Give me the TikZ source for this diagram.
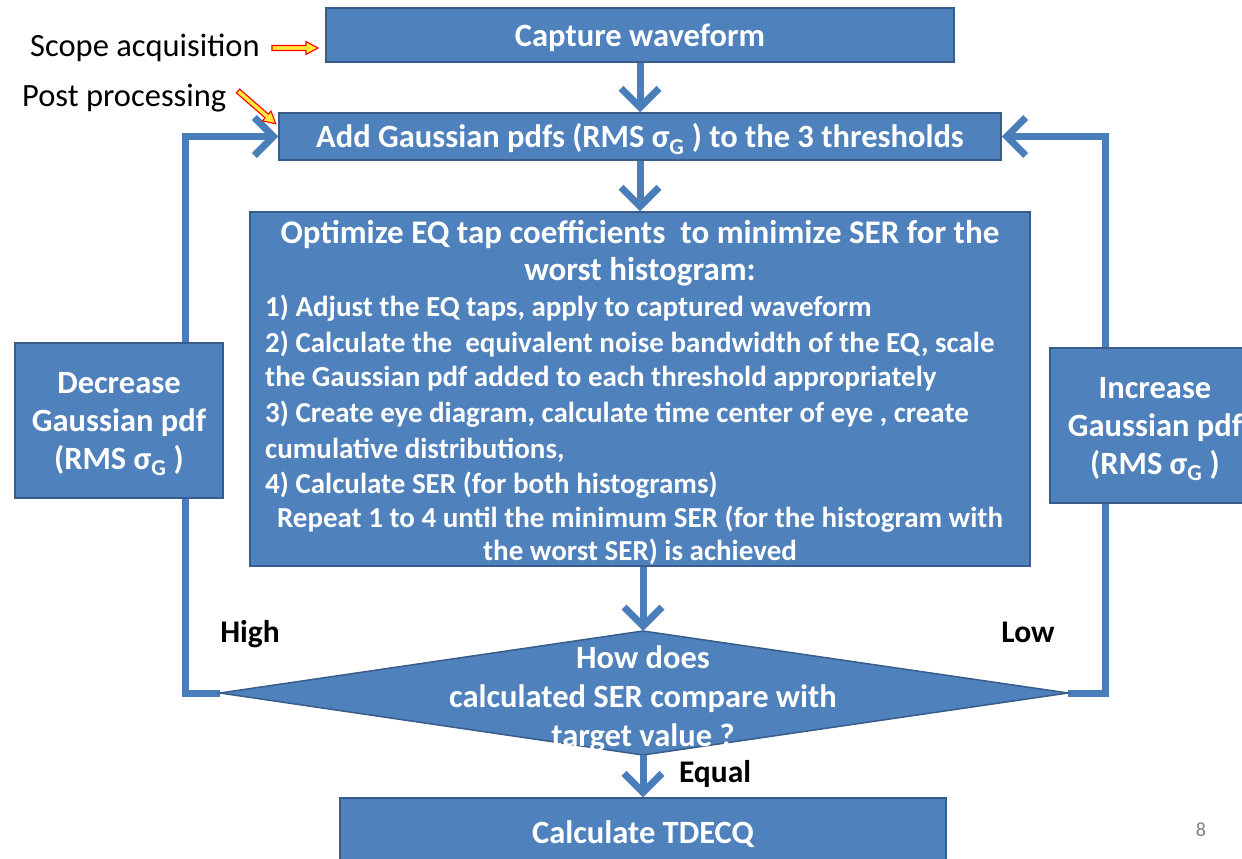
\documentclass[tikz,border=0pt]{standalone}
\usepackage{fontspec}
\setmainfont{Carlito}
\usetikzlibrary{arrows.meta}
\definecolor{boxblue}{HTML}{4F81BD}
\definecolor{boxedge}{HTML}{385D8A}
\definecolor{arrowblue}{HTML}{4A7EBB}
\definecolor{hlyellow}{HTML}{FFEB3B}
\begin{document}
\begin{tikzpicture}[x=1pt,y=-1pt,
  box/.style={draw=boxedge,line width=1.5pt,fill=boxblue,text=white,
    font=\bfseries\fontsize{32.5}{38}\selectfont,inner sep=0pt,align=center},
  flow/.style={draw=arrowblue,line width=7pt,-{Straight Barb[length=19pt,width=38pt]}},
  lbl/.style={font=\fontsize{32.5}{36}\selectfont,text=black,inner sep=0pt},
  blbl/.style={font=\bfseries\fontsize{31.5}{36}\selectfont,text=black,inner sep=0pt},
  wtxt/.style={text=white,font=\bfseries\fontsize{33}{36}\selectfont,inner sep=0pt},
  stxt/.style={text=white,font=\bfseries\fontsize{29}{34}\selectfont,inner sep=0pt},
  hl/.style={draw=red,fill=hlyellow,line width=1.1pt,line join=miter}]

\useasboundingbox (0,0) rectangle (1242,859);
\clip (0,0) rectangle (1242,859);
\fill[white] (0,0) rectangle (1242,859);

% boxes
\node[box,minimum width=628,minimum height=54] (cap) at (640,35) {};
\node[box,minimum width=722,minimum height=47] (add) at (640,136.5) {};
\node[box,minimum width=780,minimum height=354] (opt) at (640,389) {};
\node[wtxt,font=\bfseries\fontsize{32.5}{38}\selectfont] (capt) at (640,38) {Capture waveform};
\node[wtxt,font=\bfseries\fontsize{32.5}{38}\selectfont] (addt) at (640,139)
  {Add Gaussian pdfs (RMS σ\textsubscript{G} ) to the 3 thresholds};

% diamond
\coordinate (dl) at (220,693);
\coordinate (dr) at (1068,693);
\coordinate (dt) at (643,631);
\coordinate (db) at (643,755);
\coordinate (lc) at (185,693);
\coordinate (rc) at (1105,693);

\node[box,minimum width=606,minimum height=68] (tdecq) at (643,832) {};
\node[wtxt,font=\bfseries\fontsize{32.5}{38}\selectfont] (tdecqt) at (643,834) {Calculate TDECQ};

% feedback loops (behind side boxes)
\draw[flow] (dl) -- (lc) |- (add.west);
\draw[flow] (dr) -- (rc) |- (add.east);

\filldraw[fill=boxblue,draw=boxedge,line width=1.5pt] (dt) -- (dr) -- (db) -- (dl) -- cycle;
\node[wtxt,align=center,font=\bfseries\fontsize{32.5}{39}\selectfont] (q) at (643,699)
  {How does\\calculated SER compare with\\target value ?};

\node[box,minimum width=208,minimum height=155] (dec) at (119,420.5) {};
\node[box,minimum width=210,minimum height=155] (inc) at (1155,425.5) {};
\node[wtxt,align=center,font=\bfseries\fontsize{32.5}{38}\selectfont] (dect) at (119,424)
  {Decrease\\Gaussian pdf\\(RMS σ\textsubscript{G} )};
\node[wtxt,align=center,font=\bfseries\fontsize{32.5}{38}\selectfont] (inct) at (1155,429)
  {Increase\\Gaussian pdf\\(RMS σ\textsubscript{G} )};

% main flow arrows
\draw[flow] (cap.south) -- (add.north);
\draw[flow] (add.south) -- (opt.north);
\draw[flow] (opt.south -| dt) -- (dt);
\draw[flow] (db) -- (tdecq.north);

% optimize text
\node[wtxt] (o1) at (640,234) {Optimize EQ tap coefficients\ \ to minimize SER for the};
\node[wtxt] (o2) at (640,272) {worst histogram:};
\node[stxt,anchor=west] (o3) at (265,308) {1) Adjust the EQ taps, apply to captured waveform};
\node[stxt,anchor=west] (o4) at (265,344) {2) Calculate the\ \ equivalent noise bandwidth of the EQ, scale};
\node[stxt,anchor=west] (o5) at (265,379) {the Gaussian pdf added to each threshold appropriately};
\node[stxt,anchor=west] (o6) at (265,414) {3) Create eye diagram, calculate time center of eye , create};
\node[stxt,anchor=west] (o7) at (265,450) {cumulative distributions,};
\node[stxt,anchor=west] (o8) at (265,485) {4) Calculate SER (for both histograms)};
\node[stxt] (o9) at (640,519) {Repeat 1 to 4 until the minimum SER (for the histogram with};
\node[stxt] (o10) at (640,552) {the worst SER) is achieved};

% labels
\node[lbl,anchor=west] (scope) at (30,48) {Scope acquisition};
\node[lbl,anchor=west] (post) at (22,98) {Post processing};
\node[blbl] (high) at (250,634) {High};
\node[blbl] (low) at (1028,632) {Low};
\node[blbl] (equal) at (715,774) {Equal};
\node[font=\fontsize{20}{22}\selectfont,text=gray] (pg) at (1201,830) {8};

% highlighted pointer arrows
\begin{scope}[shift={(272,48)}]
  \filldraw[hl] (0,-2.5) -- (34,-2.5) -- (34,-6.5) -- (46,0) -- (34,6.5) -- (34,2.5) -- (0,2.5) -- cycle;
\end{scope}
\begin{scope}[shift={(238,91)},rotate=-41]
  \filldraw[hl] (0,-2.5) -- (38,-2.5) -- (38,-6.5) -- (50,0) -- (38,6.5) -- (38,2.5) -- (0,2.5) -- cycle;
\end{scope}
\end{tikzpicture}
\end{document}
